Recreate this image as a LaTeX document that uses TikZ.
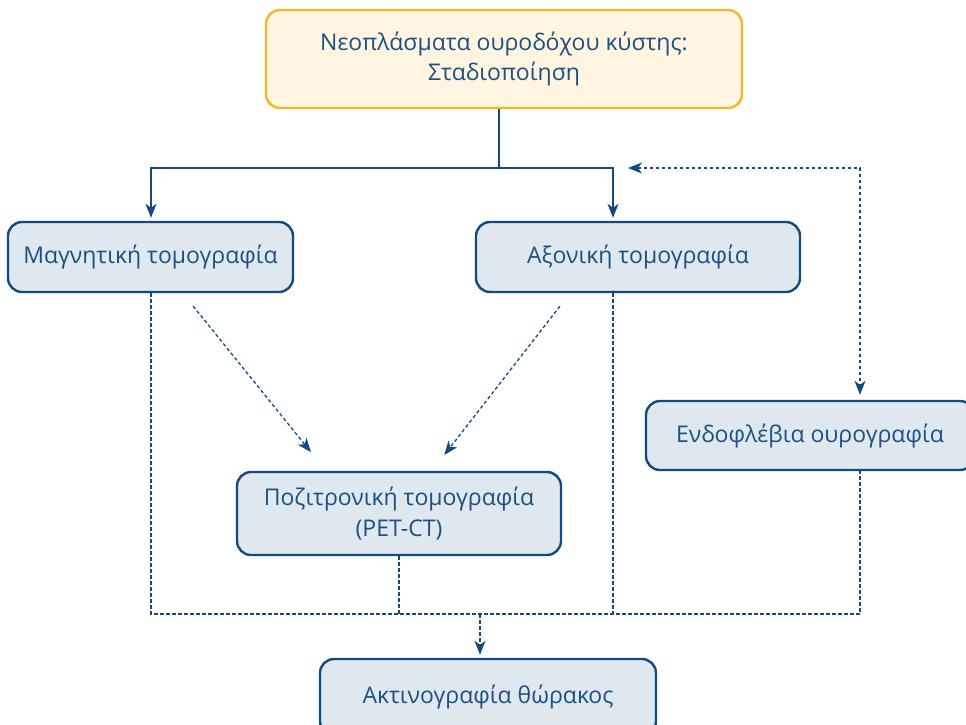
\documentclass[tikz,border=0pt]{standalone}
\usepackage{fontspec}
\setmainfont{Open Sans}
\usetikzlibrary{arrows.meta,positioning,calc}
\definecolor{navy}{RGB}{20,74,125}
\definecolor{txt}{RGB}{28,80,130}
\definecolor{boxfill}{RGB}{223,231,239}
\definecolor{topfill}{RGB}{255,245,224}
\definecolor{topline}{RGB}{247,182,40}
\tikzset{
  box/.style={draw=navy, line width=2.4pt, fill=boxfill, rounded corners=14pt,
    text=txt, align=center, font=\fontsize{23}{30.5}\selectfont, inner sep=0pt},
  topbox/.style={box, draw=topline, fill=topfill},
  conn/.style={draw=navy, line width=1.3pt},
  dconn/.style={conn, dash pattern=on 3.5pt off 2.5pt},
  tip/.style={-{Stealth[length=14pt,width=11pt,inset=4pt]}},
  tips/.style={{Stealth[length=14pt,width=11pt,inset=4pt]}-{Stealth[length=14pt,width=11pt,inset=4pt]}}
}
\begin{document}
\begin{tikzpicture}[x=1pt,y=-1pt]
\useasboundingbox (0,0) rectangle (966,724);
\clip (0,0) rectangle (966,724);
\node[topbox, minimum width=476pt, minimum height=98pt] (top) at (504,59) {Νεοπλάσματα ουροδόχου κύστης:\\Σταδιοποίηση};
\node[box, minimum width=285pt, minimum height=70pt] (mri) at (150.5,257) {Μαγνητική τομογραφία};
\node[box, minimum width=324pt, minimum height=70pt] (ct) at (638,257) {Αξονική τομογραφία};
\node[box, minimum width=328pt, minimum height=69pt] (endo) at (810,435.5) {Ενδοφλέβια ουρογραφία};
\node[box, minimum width=324pt, minimum height=83pt] (pet) at (399,513.5) {Ποζιτρονική τομογραφία\\(PET-CT)};
\node[box, minimum width=336pt, minimum height=76pt] (xray) at (488,697) {Ακτινογραφία θώρακος};

\coordinate (jt) at (499,168);
\coordinate (hl) at (151,168);
\coordinate (hr) at (613,168);
\draw[conn] (top.south -| jt) -- (jt);
\draw[conn, tip, shorten >=3pt] (jt) -- (hl) -- (hl |- mri.north);
\draw[conn, tip, shorten >=3pt] (jt) -- (hr) -- (hr |- ct.north);

\coordinate (fl) at (628,168);
\coordinate (fr) at (860,168);
\draw[dconn, tips, shorten <=0pt, shorten >=5pt] (fl) -- (fr) -- (fr |- endo.north);

\draw[dconn, tip, shorten <=16.6pt, shorten >=24pt] ([xshift=32.2pt]mri.south) -- ([xshift=-73pt]pet.north);
\draw[dconn, tip, shorten <=16.4pt, shorten >=20pt] ([xshift=-68pt]ct.south) -- ([xshift=33pt]pet.north);

\coordinate (bl) at (151,614);
\coordinate (bc) at (613,614);
\coordinate (br) at (860,614);
\coordinate (bp) at (399,614);
\coordinate (bx) at (480,614);
\draw[dconn] (bl |- mri.south) -- (bl) -- (br) -- (br |- endo.south);
\draw[dconn] (bc |- ct.south) -- (bc);
\draw[dconn] (pet.south) -- (bp);
\draw[dconn, tip, shorten >=3pt] (bx) -- (bx |- xray.north);
\end{tikzpicture}
\end{document}
